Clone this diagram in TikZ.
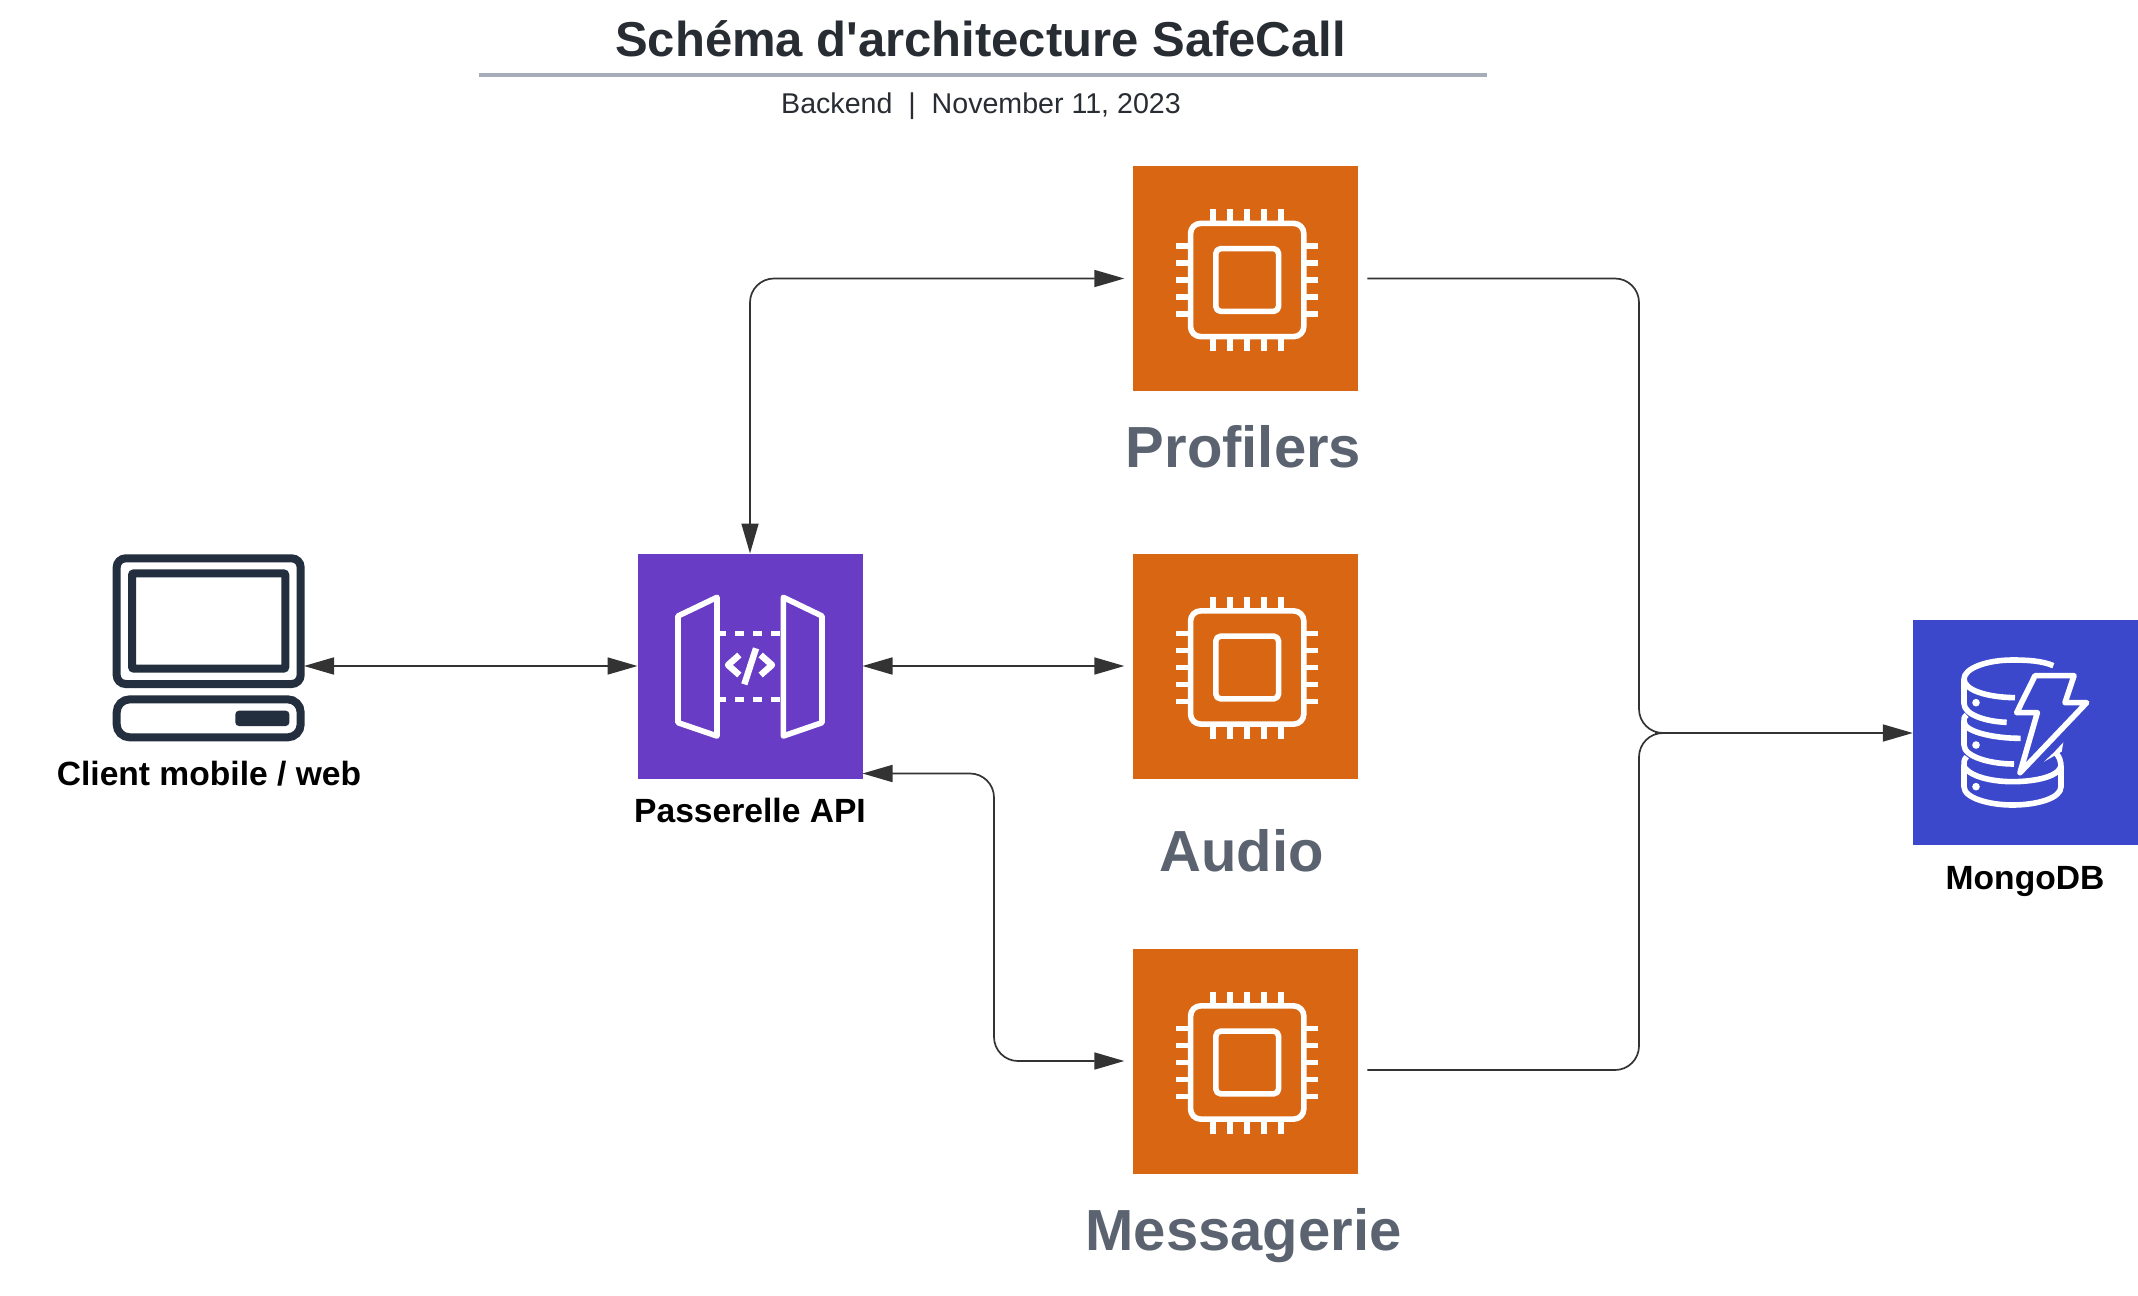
\documentclass[tikz,border=0pt]{standalone}
\usepackage{fontspec}
\setmainfont{Liberation Sans}
\newfontfamily\titlefont{Liberation Sans}
\usetikzlibrary{arrows.meta,calc}
\definecolor{orangebox}{HTML}{D86613}
\definecolor{purplebox}{HTML}{693CC5}
\definecolor{bluebox}{HTML}{3B48CC}
\definecolor{inkdark}{HTML}{282C33}
\definecolor{rulegrey}{HTML}{A5AEB8}
\definecolor{labelgrey}{HTML}{5C6370}
\definecolor{navy}{HTML}{232F3E}
\definecolor{linecol}{HTML}{333333}
\newcommand{\fsz}[1]{\fontsize{#1}{#1}\selectfont}
\tikzset{
  x=0.5pt,y=-0.5pt,
  iconbox/.style={minimum size=112.5pt,inner sep=0pt,outer sep=0pt,draw=none},
  txt/.style={anchor=base,inner sep=0pt,outer sep=0pt},
  bigtxt/.style={txt,font=\fsz{29}\bfseries,text=labelgrey},
  smalltxt/.style={txt,font=\fsz{16.8}\bfseries,text=black},
  link/.style={draw=linecol,line width=0.85pt,rounded corners=12pt},
  both/.style={link,{Triangle[length=15pt,width=8.5pt]}-{Triangle[length=15pt,width=8.5pt]}},
  single/.style={link,-{Triangle[length=15pt,width=8.5pt]}},
  plain/.style={link},
  wline/.style={draw=white,line width=2.8pt,line join=round},
  chip/.pic={
    \begin{scope}[shift={(1.4,1.5)}]
      \draw[wline,rounded corners=5pt] (-56.6,-56.6) rectangle (56.6,56.6);
      \draw[wline,rounded corners=2.5pt] (-31.4,-31.4) rectangle (31.4,31.4);
      \foreach \p in {-34,-17,0,17,34}{
        \draw[wline] (\p,-59) -- (\p,-71);
        \draw[wline] (\p,59) -- (\p,71);
        \draw[wline] (-59,\p) -- (-71,\p);
        \draw[wline] (59,\p) -- (71,\p);
      }
    \end{scope}
  }
}
\begin{document}
\begin{tikzpicture}
\useasboundingbox (0,0) rectangle (2138,1296);
\fill[white] (0,0) rectangle (2138,1296);

% title block
\node[txt,font=\titlefont\fsz{24.5}\bfseries,text=inkdark] (title) at (980.5,56) {Schéma d'architecture SafeCall};
\fill[rulegrey] (478.6,73) rectangle (1487,77);
\node[txt,font=\fsz{14.3},text=inkdark] (subtitle) at (981,113) {Backend\ \ |\ \ November 11, 2023};

% boxes
\node[iconbox,fill=purplebox] (api) at (750,666) {};
\node[iconbox,fill=orangebox] (prof) at (1245.8,278.5) {};
\node[iconbox,fill=orangebox] (audio) at (1245.8,666) {};
\node[iconbox,fill=orangebox] (msg) at (1245.8,1061) {};
\node[iconbox,fill=bluebox] (db) at (2025.3,732.5) {};
\pic at (prof) {chip};
\pic at (audio) {chip};
\pic at (msg) {chip};

% client icon
\node[inner sep=0pt,outer sep=0pt,minimum width=96pt,minimum height=0pt] (client) at (208,666) {};
\begin{scope}[shift={(100,540)},x=0.16667pt,y=-0.16667pt]
  \draw[navy,line width=4pt,rounded corners=4.5pt] (50,55) rectangle (602,432);
  \draw[navy,line width=4pt,rounded corners=1pt] (96,100) rectangle (556,386);
  \draw[navy,line width=4pt,rounded corners=6.5pt] (50,478) rectangle (602,592);
  \fill[navy,rounded corners=1.8pt] (406,512) rectangle (568,558);
\end{scope}

% API icon
\begin{scope}[shift={(620,540)},x=0.16667pt,y=-0.16667pt]
  \draw[wline] (174,228) -- (291,172) -- (291,588) -- (174,548) -- cycle;
  \draw[wline] (490,172) -- (606,228) -- (606,548) -- (490,588) -- cycle;
  \foreach \yy in {281,479}{
    \foreach \a/\b in {300/318,345/372,399/426,453/480}{
      \draw[draw=white,line width=2.8pt] (\a,\yy) -- (\b,\yy);
    }
  }
  \draw[wline,line width=3.2pt] (358,345) -- (324,375) -- (358,405);
  \draw[wline,line width=3.2pt] (422,345) -- (456,375) -- (422,405);
  \draw[draw=white,line width=3.2pt] (408,325) -- (373,433);
\end{scope}

% DB icon
\begin{scope}[shift={(1900,610)},x=0.16667pt,y=-0.16667pt]
  \begin{scope}[draw=white,line width=2.8pt,line join=round]
    \draw (460,167) .. controls (425,152) and (380,150) .. (337,150)
          .. controls (260,150) and (192,175) .. (192,207)
          .. controls (192,240) and (260,262) .. (345,263);
    \draw (192,207) -- (192,280) .. controls (192,315) and (260,335) .. (320,337);
    \draw (200,315) .. controls (190,322) and (192,328) .. (192,335)
          .. controls (192,365) and (280,385) .. (362,385);
    \draw (192,335) -- (192,405) .. controls (192,440) and (270,462) .. (342,462);
    \draw (200,440) .. controls (190,450) and (192,460) .. (192,470)
          .. controls (215,505) and (290,515) .. (337,515)
          .. controls (390,515) and (470,505) .. (483,470);
    \draw (192,470) -- (192,530) .. controls (192,565) and (270,585) .. (337,585)
          .. controls (410,585) and (483,565) .. (483,530) -- (483,470)
          .. controls (483,455) and (478,440) .. (470,432);
    \draw (405,197) -- (522,197) -- (495,278) -- (560,278) -- (360,488) -- (412,308) -- (350,308) -- cycle;
  \end{scope}
  \fill[white] (490,397) -- (485,425) -- (432,455) -- (462,427) -- cycle;
  \foreach \yy in {278,405,530}{ \fill[white] (228,\yy) circle (1.9pt); }
\end{scope}

% labels
\node[smalltxt] (clientlabel) at (209,785) {Client mobile / web};
\node[smalltxt] (apilabel) at (750,822.5) {Passerelle API};
\node[smalltxt] (dblabel) at (2025,889) {MongoDB};
\node[bigtxt] (proflabel) at (1243.5,467) {Profilers};
\node[bigtxt] (audiolabel) at (1241.5,871.5) {Audio};
\node[bigtxt] (msglabel) at (1243.5,1250) {Messagerie};

% connector ends
\coordinate (profin) at ($(prof.west)+(-9,0)$);
\coordinate (audioin) at ($(audio.west)+(-9,0)$);
\coordinate (msgin) at ($(msg.west)+(-9,0)$);
\coordinate (profout) at ($(prof.east)+(9,0)$);
\coordinate (msgout) at ($(msg.east)+(9,9)$);
\coordinate (apilow) at ($(api.east)+(0,107.5)$);
\coordinate (trunk) at (1639,733);
\coordinate (trunkout) at (1665,733);

% connectors
\draw[both] (client.east) -- (api.west);
\draw[both] (api.east) -- (audioin);
\draw[both] (api.north) |- (profin);
\draw[both] (apilow) -- (994,773.5) -- (994,1061) -- (msgin);
\draw[plain] (profout) -| (trunk) -- (trunkout);
\draw[plain] (msgout) -| (trunk) -- (trunkout);
\draw[single] (1655,733) -- (db.west |- trunk);
\end{tikzpicture}
\end{document}
